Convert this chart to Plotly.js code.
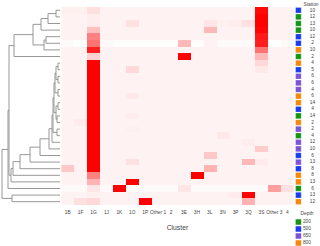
<!DOCTYPE html>
<html><head><meta charset="utf-8">
<script src="https://cdn.plot.ly/plotly-3.0.1.min.js"></script>
<style>body{margin:0;background:#fff}</style></head>
<body><div id="c" style="width:320px;height:246px"></div>
<script>
const clusters = ['1B','1F','1G','1J','1K','1O','1P','Other 1','2','3E','3H','3L','3N','3P','3Q','3S','Other 3','4'];
const stations = ['10','12','13','10','12','2','10','2','4','5','6','6','4','6','14','4','14','2','2','4','12','10','6','13','8','8','13','6','13','12'];
const depths = [500,200,200,200,500,500,800,200,800,500,650,650,650,800,800,500,200,800,650,200,650,650,500,650,500,800,800,200,500,800];
const depthLevels = [200,500,650,800];
const depthColors = ['#169416','#1a3cf2','#7b54d8','#f5870c'];
// relative abundance (0..1), rows top->bottom, columns as clusters
const z = [
[.06,.06,.12,.05,.05,.05,.05,.05,.05,.05,.05,.05,.05,.05,.05,.97,.05,.05],
[.05,.05,.07,.05,.05,.05,.05,.05,.05,.05,.05,.05,.05,.05,.05,1,.05,.05],
[.05,.05,.07,.05,.05,.12,.05,.05,.05,.05,.05,.10,.06,.07,.12,1,.05,.05],
[.05,.05,.25,.05,.05,.05,.05,.05,.05,.05,.05,.28,.05,.05,.05,.98,.05,.05],
[.05,.05,.50,.05,.05,.05,.05,.05,.05,.05,.05,.05,.05,.05,.05,.90,.05,.05],
[.02,0,.55,.02,.01,.01,.01,.01,.01,.28,.01,.05,.02,.02,.02,.88,0,.02],
[.05,.05,.88,.05,.05,.05,.05,.05,.05,.05,.05,.05,.05,.05,.05,.55,.05,.05],
[.05,.05,.18,.05,.05,.05,.05,.05,.05,1,.05,.05,.05,.05,.05,.28,.05,.05],
[.05,.05,1,.05,.05,.05,.05,.05,.05,.05,.05,.05,.05,.05,.05,.15,.05,.05],
[.05,.05,1,.05,.05,.15,.05,.05,.05,.05,.05,.05,.05,.05,.05,.09,.05,.05],
[.05,.05,1,.05,.05,.05,.05,.05,.05,.05,.05,.05,.05,.05,.05,.05,.05,.05],
[.05,.05,1,.05,.05,.05,.05,.05,.05,.05,.05,.05,.05,.05,.05,.05,.05,.05],
[.05,.05,1,.05,.05,.05,.05,.05,.05,.05,.05,.05,.05,.05,.05,.05,.05,.05],
[.05,.05,1,.05,.05,.09,.05,.05,.05,.05,.05,.05,.05,.05,.05,.05,.05,.05],
[.05,.05,1,.05,.05,.05,.05,.05,.05,.05,.05,.05,.05,.05,.05,.05,.05,.05],
[.05,.05,1,.05,.05,.05,.05,.05,.05,.05,.05,.05,.05,.05,.05,.05,.05,.05],
[.05,.05,1,.05,.05,.07,.05,.05,.05,.05,.05,.05,.05,.05,.05,.05,.05,.05],
[.05,.08,1,.05,.05,.05,.05,.05,.05,.05,.05,.05,.05,.05,.05,.05,.05,.05],
[.05,.05,1,.05,.05,.06,.05,.05,.05,.05,.05,.05,.05,.05,.05,.05,.05,.05],
[.05,.05,1,.05,.05,.05,.05,.05,.05,.05,.05,.05,.09,.05,.05,.05,.05,.05],
[.05,.05,1,.05,.05,.05,.05,.05,.05,.05,.05,.05,.05,.05,.07,.05,.05,.05],
[.05,.05,1,.05,.05,.05,.05,.05,.05,.05,.05,.05,.05,.05,.05,.20,.05,.05],
[.05,.05,1,.05,.05,.05,.05,.05,.05,.05,.05,.22,.05,.05,.05,.05,.05,.05],
[.05,.05,1,.05,.05,.12,.05,.05,.05,.05,.05,.05,.05,.05,.28,.08,.05,.05],
[.22,.05,1,.05,.05,.05,.05,.05,.05,.05,.05,.30,.05,.05,.05,.05,.05,.05],
[.05,.05,.50,.05,.05,.05,.05,.05,.05,.05,1,.05,.05,.05,.05,.05,.05,.05],
[.05,.05,.30,.05,.05,1,.05,.05,.05,.05,.05,.05,.05,.05,.05,.05,.05,.05],
[.02,.02,.10,.02,1,.02,.02,.02,.02,.10,.02,.02,.02,.02,.02,.02,.38,.12],
[.05,.05,.06,.05,.05,.05,.05,.05,.05,.05,.05,.05,.05,.08,1,.05,.05,.05],
[.05,.12,.15,.05,.05,.05,1,.05,.05,.05,.05,.05,.05,.05,.30,.05,.05,.05]
];
// hierarchical clustering linkage (leaves 0..29 are rows; merged nodes get ids 30..)
const linkA = [0,30,31,4,33,32,35, 8,10,37,12,39,14,16,42,41,18,45,47,48,49,50,51,52,53,36,55,28,56];
const linkB = [1,2,3,5,6,34,7, 9,11,38,13,40,15,17,43,44,19,46,20,21,22,23,24,25,26,54,27,29,57];
const linkH = [4,12,19,14,16,27,46, 2,2,4,2,5,2,3,4,6,3,7,8,11,20,30,40,47,49,51,52,48,58];

const rows = stations.map((s,i)=>i);
const nodeY = rows.slice(), nodeH = rows.map(()=>0);
const dx=[], dy=[];
for(let k=0;k<linkA.length;k++){
  const a=linkA[k], b=linkB[k], h=linkH[k];
  dx.push(nodeH[a],h,h,nodeH[b],null);
  dy.push(nodeY[a],nodeY[a],nodeY[b],nodeY[b],null);
  nodeY.push((nodeY[a]+nodeY[b])/2); nodeH.push(h);
}
const colorOf = d => depthColors[depthLevels.indexOf(d)];
const W=320,H=246;
const traces = [
 {type:'heatmap', z:z, x:clusters.map((c,i)=>i), y:rows, colorscale:[[0,'#ffffff'],[1,'#ff0000']], zmin:0, zmax:1, showscale:false, xaxis:'x', yaxis:'y', hoverinfo:'skip'},
 {type:'scatter', mode:'lines', x:dx, y:dy, xaxis:'x2', yaxis:'y', line:{color:'#8c8c8c', width:0.9}, hoverinfo:'skip'},
 {type:'scatter', mode:'markers', x:rows.map(()=>298.4), y:rows, xaxis:'x3', yaxis:'y', marker:{symbol:'square', size:5.6, color:depths.map(colorOf), line:{color:'rgba(255,255,255,0.6)',width:0.4}}, hoverinfo:'skip'},
 {type:'scatter', mode:'text', x:rows.map(()=>312.5), y:rows, text:stations, xaxis:'x3', yaxis:'y', textfont:{size:4.8, color:'#444'}, hoverinfo:'skip'},
 {type:'scatter', mode:'text', x:[311], y:[5], text:['Station'], xaxis:'x3', yaxis:'y3', textfont:{size:4.8,color:'#444'}, hoverinfo:'skip'},
 {type:'scatter', mode:'text', x:[307], y:[214], text:['Depth'], xaxis:'x3', yaxis:'y3', textfont:{size:4.8,color:'#444'}, hoverinfo:'skip'},
 {type:'scatter', mode:'markers+text', x:depthLevels.map(()=>298.4), y:depthLevels.map((d,i)=>222+7*i), text:depthLevels.map(String), textposition:'middle right', xaxis:'x3', yaxis:'y3', marker:{symbol:'square', size:5.6, color:depthColors}, textfont:{size:4.8,color:'#444'}, hoverinfo:'skip'}
];
const layout = {
 width:W, height:H, margin:{l:0,r:0,t:0,b:0}, showlegend:false,
 paper_bgcolor:'#fff', plot_bgcolor:'rgba(0,0,0,0)',
 font:{family:'Liberation Sans, Arial, sans-serif', color:'#444'},
 xaxis:{domain:[61.2/W, 293.7/W], range:[-0.5,17.5], tickvals:clusters.map((c,i)=>i), ticktext:clusters, tickangle:0, ticks:'', tickfont:{size:4.8,color:'#444'}, showgrid:false, zeroline:false, showline:false, ticklabelstandoff:3,
   title:{text:'Cluster', font:{size:6.8,color:'#444'}, standoff:11}},
 yaxis:{domain:[1-205/H, 1-7/H], range:[29.5,-0.5], showticklabels:false, ticks:'', showgrid:false, zeroline:false, showline:false},
 xaxis2:{domain:[0, 60/W], range:[60,0], showticklabels:false, ticks:'', showgrid:false, zeroline:false, showline:false},
 xaxis3:{domain:[293.7/W,1], range:[293.7,320], showticklabels:false, ticks:'', showgrid:false, zeroline:false, showline:false},
 yaxis3:{domain:[0,1], range:[H,0], showticklabels:false, ticks:'', showgrid:false, zeroline:false, showline:false}
};
Plotly.newPlot('c', traces, layout, {staticPlot:true, displayModeBar:false});
</script></body></html>
